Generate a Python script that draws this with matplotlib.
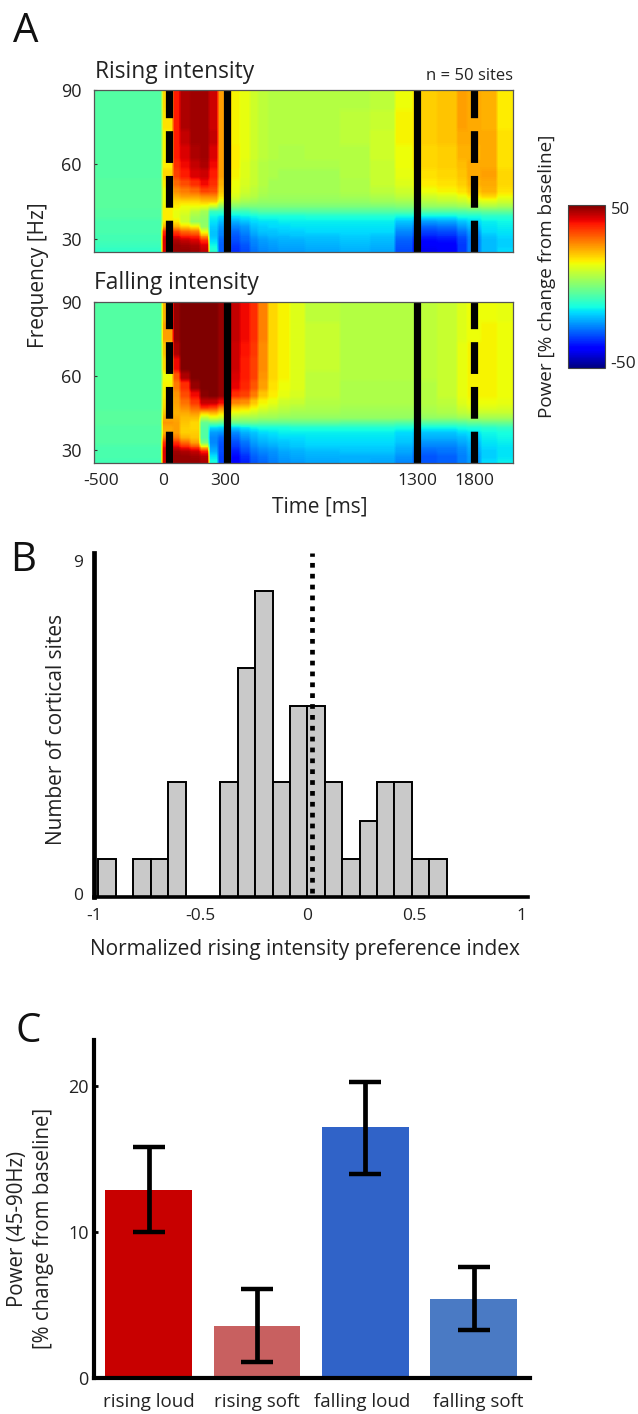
import matplotlib
matplotlib.use("Agg")
import matplotlib.pyplot as plt
import numpy as np

plt.rcParams['font.family'] = ['Open Sans', 'DejaVu Sans']
TXT = '#222222'

W, H = 638, 1414

# ---------- Panel A data ----------
time_edges = [-395, -37, 21, 58, 110, 163, 210, 258, 326, 374, 426, 468, 521, 574, 637, 716,
              900, 1058, 1189, 1284, 1326, 1410, 1516, 1568, 1642, 1726, 1810]
freq_edges = [90, 82, 74, 68, 62, 58, 54, 51, 48, 46, 44, 42, 40, 38, 36, 34, 32, 30, 28, 26, 24.7]
rising = [
 [-5,18,38,46,47,47,43,24,15,13,10,8,7,7,7,7,7,8,14,17,19,20,24,23,22,16],
 [-5,17,38,46,47,47,43,24,15,13,10,8,7,7,7,7,8,9,15,17,19,20,24,23,22,16],
 [-5,15,38,44,47,47,44,24,15,13,10,8,7,7,7,7,8,10,15,17,19,20,23,23,23,17],
 [-5,15,38,42,46,47,42,24,16,13,10,8,7,6,6,7,7,10,14,17,18,19,22,22,23,17],
 [-5,16,36,40,44,46,40,24,16,12,9,7,6,6,6,6,7,9,14,16,18,19,21,23,23,17],
 [-5,18,34,38,42,43,38,24,15,12,9,7,6,5,5,5,7,9,13,15,17,18,20,23,24,18],
 [-4,16,30,33,36,40,36,22,14,11,9,7,5,5,5,5,6,9,12,14,16,17,19,22,23,18],
 [-4,14,26,28,30,34,33,20,13,10,8,6,5,5,5,5,6,8,10,12,14,15,17,20,22,17],
 [-4,14,22,24,24,26,26,17,11,8,7,5,4,4,4,4,5,6,8,9,10,11,13,16,18,14],
 [-4,14,18,18,18,20,20,12,7,5,4,3,3,3,3,3,3,4,5,6,7,8,9,11,12,10],
 [-4,15,16,14,14,13,9,2,1,0,0,0,0,0,0,0,0,0,1,2,3,3,4,5,6,5],
 [-5,16,13,12,8,5,-8,-8,-8,-8,-6,-5,-5,-5,-5,-5,-5,-5,-5,-6,-5,-5,-5,-4,-3,-3],
 [-5,16,13,10,5,3,-13,-15,-15,-14,-13,-12,-12,-12,-12,-11,-11,-11,-13,-14,-14,-14,-12,-12,-10,-10],
 [-6,16,16,10,3,2,-15,-19,-20,-18,-16,-15,-15,-14,-14,-14,-14,-14,-18,-21,-22,-21,-18,-16,-14,-13],
 [-6,22,22,18,15,3,-17,-22,-24,-22,-18,-17,-16,-16,-15,-15,-15,-15,-21,-26,-27,-26,-22,-19,-15,-14],
 [-6,36,34,30,28,13,-18,-24,-27,-24,-20,-18,-18,-17,-17,-16,-16,-16,-24,-29,-31,-30,-26,-22,-16,-15],
 [-7,40,40,37,36,24,-18,-25,-29,-26,-22,-20,-19,-19,-18,-18,-17,-18,-26,-32,-34,-33,-29,-24,-18,-16],
 [-7,42,46,44,42,36,-16,-27,-30,-27,-24,-22,-21,-20,-20,-19,-18,-19,-28,-35,-37,-36,-31,-25,-19,-17],
 [-8,42,48,47,46,42,-13,-28,-32,-29,-25,-23,-22,-21,-21,-20,-19,-20,-29,-37,-39,-38,-32,-25,-19,-17],
 [-9,42,48,48,47,44,-10,-28,-33,-30,-26,-24,-23,-22,-22,-21,-20,-21,-30,-37,-40,-39,-32,-25,-19,-16],
]
falling = [
 [-5,22,48,50,50,50,50,48,44,40,36,27,18,15,12,8,7,7,7,7,8,9,12,14,14,13],
 [-5,24,48,50,50,50,50,48,44,40,36,27,18,15,12,9,7,7,7,7,8,9,12,14,15,14],
 [-5,20,46,50,50,50,50,48,43,39,35,26,18,15,12,9,7,7,7,7,8,9,13,15,15,14],
 [-5,18,40,50,50,50,50,48,43,38,34,26,18,15,12,9,7,7,7,7,8,9,13,15,15,14],
 [-5,14,32,46,50,50,50,48,42,38,34,25,18,15,12,8,7,7,7,7,8,9,13,15,15,14],
 [-5,15,28,36,48,50,50,48,41,37,32,24,17,14,12,8,6,6,6,6,7,9,13,15,15,14],
 [-5,16,25,33,40,49,50,48,36,34,28,20,16,13,11,8,6,6,6,6,7,9,13,15,15,14],
 [-5,17,24,29,35,44,44,40,27,26,20,15,13,10,9,7,6,6,6,6,7,8,12,14,14,13],
 [-5,18,23,26,30,36,34,27,19,18,15,12,10,8,7,6,5,5,5,5,6,7,10,12,12,11],
 [-4,20,22,23,25,20,22,18,13,12,10,8,7,6,5,5,4,4,4,4,5,6,8,9,9,9],
 [-4,23,23,21,21,8,12,10,6,5,5,4,4,3,3,3,3,3,3,2,3,3,4,5,5,5],
 [-4,25,24,20,18,-3,-2,-3,-2,-2,-2,-3,-3,-3,-3,-3,-4,-4,-5,-5,-5,-5,-4,-3,-2,-2],
 [-5,23,24,19,18,-5,-16,-17,-17,-15,-13,-12,-12,-12,-11,-11,-11,-11,-12,-13,-13,-13,-12,-11,-10,-9],
 [-5,22,24,19,19,-5,-22,-23,-24,-20,-18,-16,-15,-14,-14,-14,-14,-14,-16,-18,-18,-18,-16,-15,-13,-12],
 [-5,28,28,22,20,-5,-24,-27,-27,-23,-20,-18,-17,-16,-16,-15,-15,-15,-17,-20,-20,-20,-19,-17,-14,-13],
 [-5,36,36,30,24,0,-24,-29,-30,-26,-22,-20,-19,-18,-17,-16,-16,-16,-18,-22,-23,-23,-21,-19,-15,-14],
 [-6,40,42,38,34,18,-22,-30,-32,-28,-24,-22,-21,-19,-18,-17,-17,-17,-20,-24,-25,-25,-23,-20,-16,-15],
 [-6,42,47,46,44,38,-20,-30,-35,-30,-26,-24,-23,-21,-20,-19,-18,-18,-21,-26,-27,-26,-24,-21,-17,-15],
 [-6,42,48,48,47,45,-15,-31,-37,-33,-28,-26,-24,-22,-21,-20,-20,-20,-23,-28,-29,-28,-25,-22,-17,-15],
 [-7,42,48,48,48,46,-12,-31,-38,-34,-29,-27,-25,-23,-22,-21,-20,-21,-24,-28,-29,-28,-25,-22,-16,-14],
]
time_tick_pos = [-358, -32, 295, 1305, 1605]
time_tick_labels = ['-500', '0', '300', '1300', '1800']
freq_ticks = [30, 60, 90]
solid_events = [305, 1305]
dashed_events = [0, 1605]

# ---------- Panel B data ----------
pref_edges = np.linspace(-0.979, 0.651, 21)
pref_counts = [1, 0, 1, 1, 3, 0, 0, 3, 6, 8, 3, 5, 5, 3, 1, 2, 3, 3, 1, 1]
pref_median = 0.022
pref_xticks = [-1, -0.5, 0, 0.5, 1]
pref_xlabels = ['-1', '-0.5', '0', '0.5', '1']

# ---------- Panel C data ----------
cond_labels = ['rising loud', 'rising soft', 'falling loud', 'falling soft']
cond_power = [12.9, 3.55, 17.2, 5.4]
cond_err_hi = [15.8, 6.1, 20.3, 7.6]
cond_err_lo = [10.0, 1.1, 14.0, 3.3]
cond_colors = ['#c80000', '#c86060', '#3063c8', '#4a7ac4']


fig = plt.figure(figsize=(W / 100, H / 100), dpi=100, facecolor='white')


def axpx(x0, y0, x1, y1):
    return fig.add_axes([x0 / W, 1 - y1 / H, (x1 - x0) / W, (y1 - y0) / H])


def tpx(x, y, s, **kw):
    kw.setdefault('color', TXT)
    kw.setdefault('ha', 'center')
    kw.setdefault('va', 'center')
    return fig.text(x / W, 1 - y / H, s, **kw)


def box(a, n, axis):
    # soft box smoothing, like the compression blur of the printed figure
    pad = [(0, 0), (0, 0)]
    pad[axis] = (n // 2, n // 2)
    b = np.pad(a, pad, mode='edge')
    k = np.ones(n) / n
    return np.apply_along_axis(lambda v: np.convolve(v, k, mode='valid'), axis, b)


def heat(ax, mat):
    # sample the blocks on a pixel-sized grid, soften slightly, then show them
    tg = np.linspace(time_edges[0], time_edges[-1], 419)
    fg = np.linspace(freq_edges[0], freq_edges[-1], 162)
    ci = np.clip(np.searchsorted(time_edges, tg, side='right') - 1, 0, len(time_edges) - 2)
    ri = np.clip(np.searchsorted(-np.array(freq_edges), -fg, side='right') - 1, 0, len(freq_edges) - 2)
    img = np.array(mat, dtype=float)[np.ix_(ri, ci)]
    img = box(box(img, 5, 0), 3, 1)
    ax.imshow(img, cmap='jet', vmin=-50, vmax=50, aspect='auto', interpolation='bilinear',
              extent=[time_edges[0], time_edges[-1], freq_edges[-1], freq_edges[0]])
    ax.set_xlim(time_edges[0], time_edges[-1])
    ax.set_ylim(24.7, 90)
    for t in solid_events:
        ax.axvline(t, color='black', lw=5.2, solid_capstyle='butt')
    for t in dashed_events:
        ax.plot([t, t], [24.7, 90], color='black', lw=5.2, dash_capstyle='butt',
                dashes=(4.4, 1.8))
    ax.set_yticks(freq_ticks)
    ax.tick_params(axis='y', direction='in', length=2.5, width=0.8, labelsize=13,
                   labelcolor=TXT, pad=9, color='#333333')
    for s in ax.spines.values():
        s.set_linewidth(0.9)
        s.set_color('#555555')


ax1 = axpx(94, 90, 513, 252)
heat(ax1, rising)
ax1.set_xticks([])

ax2 = axpx(94, 302, 513, 463)
heat(ax2, falling)
ax2.set_xticks(time_tick_pos)
ax2.set_xticklabels(time_tick_labels)
ax2.tick_params(axis='x', length=0, labelsize=12.5, labelcolor=TXT, pad=7)

tpx(95, 72, 'Rising intensity', ha='left', fontsize=16.4)
tpx(94, 283, 'Falling intensity', ha='left', fontsize=16.4)
tpx(513, 76, 'n = 50 sites', ha='right', fontsize=12)
tpx(39, 275, 'Frequency [Hz]', rotation=90, fontsize=15)
tpx(320, 507, 'Time [ms]', fontsize=15)

# colour bar
cax = axpx(568, 205, 605, 368)
cb = fig.colorbar(plt.cm.ScalarMappable(norm=plt.Normalize(-50, 50), cmap='jet'), cax=cax)
cb.set_ticks([])
cb.outline.set_linewidth(0.8)
cb.outline.set_edgecolor('#444444')
tpx(611, 210, '50', ha='left', fontsize=12)
tpx(610, 364, '-50', ha='left', fontsize=12.5)
tpx(547, 276, 'Power [% change from baseline]', rotation=90, fontsize=13.6)

# ---------- Panel B ----------
axb = axpx(94, 553, 528, 897)
axb.bar(pref_edges[:-1], pref_counts, width=np.diff(pref_edges), align='edge',
        facecolor='#c9c9c9', edgecolor='black', linewidth=1.4)
axb.plot([pref_median, pref_median], [0.1, 9], color='black', lw=3.4, dash_capstyle='butt',
         dashes=(1, 1.3), clip_on=False)
axb.set_xlim(-0.973, 1.032)
axb.set_ylim(0, 9)
axb.set_xticks(pref_xticks)
axb.set_xticklabels(pref_xlabels)
axb.set_yticks([0.08, 8.8])
axb.set_yticklabels(['0', '9'])
axb.tick_params(axis='both', length=0, labelsize=12.5, labelcolor=TXT)
axb.tick_params(axis='x', pad=8)
axb.tick_params(axis='y', pad=8)
for lab in ('top', 'right'):
    axb.spines[lab].set_visible(False)
axb.spines['left'].set_linewidth(3.4)
axb.spines['bottom'].set_linewidth(2.6)
tpx(57, 729, 'Number of cortical sites', rotation=90, fontsize=15)
tpx(305, 949, 'Normalized rising intensity preference index', fontsize=15)

# ---------- Panel C ----------
axc = axpx(94, 1040, 530, 1378)
xs = np.arange(len(cond_labels))
axc.bar(xs, cond_power, width=0.80, color=cond_colors, linewidth=0)
power = np.array(cond_power)
yerr = [power - np.array(cond_err_lo), np.array(cond_err_hi) - power]
axc.errorbar(xs, power, yerr=yerr, fmt='none', ecolor='black', elinewidth=3.4,
             capsize=11.5, capthick=3.2)
axc.set_xlim(-0.503, 3.52)
axc.set_ylim(0, 23.15)
axc.set_xticks([0, 1, 1.97, 3.04])
axc.set_xticklabels(cond_labels)
axc.set_yticks([0, 10, 20])
axc.tick_params(axis='x', length=0, labelsize=13.5, labelcolor=TXT, pad=11)
axc.tick_params(axis='y', direction='in', length=3, width=2, labelsize=13, labelcolor=TXT, pad=4)
for lab in ('top', 'right'):
    axc.spines[lab].set_visible(False)
axc.spines['left'].set_linewidth(3)
axc.spines['bottom'].set_linewidth(3)
tpx(18, 1229, 'Power (45-90Hz)', rotation=90, fontsize=14.8)
tpx(44, 1228, '[% change from baseline]', rotation=90, fontsize=14.8)

# panel letters
tpx(26, 32, 'A', fontsize=29, color='#111111')
tpx(23, 561, 'B', fontsize=29, color='#111111')
tpx(28, 1032, 'C', fontsize=29, color='#111111')

fig.savefig('out.png', dpi=100, facecolor='white')
